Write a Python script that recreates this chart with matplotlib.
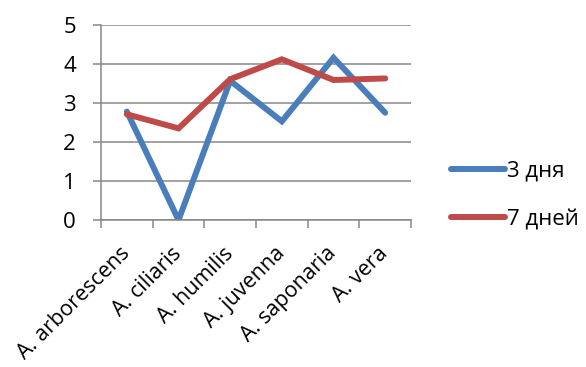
import numpy as np
import matplotlib
matplotlib.use("Agg")
import matplotlib.pyplot as plt

plt.rcParams['font.family'] = ['Open Sans', 'DejaVu Sans']

species = ["A. arborescens", "A. ciliaris", "A. humilis",
           "A. juvenna", "A. saponaria", "A. vera"]
days3 = [2.78, 0.0, 3.57, 2.53, 4.16, 2.75]
days7 = [2.71, 2.35, 3.61, 4.12, 3.59, 3.63]
series_names = ["3 дня", "7 дней"]

fig = plt.figure(figsize=(5.86, 3.67), dpi=100)
ax = fig.add_axes([0.1724, 0.4005, 0.529, 0.5314])

x = np.arange(len(species))
ax.plot(x, days3, color="#4A7EBB", lw=4.3, solid_capstyle="round",
        solid_joinstyle="miter", label=series_names[0])
ax.plot(x, days7, color="#BE4B48", lw=4.3, solid_capstyle="round",
        solid_joinstyle="miter", label=series_names[1])

ax.set_xlim(-0.5, len(species) - 0.5)
ax.set_ylim(0, 5)
ax.set_yticks(range(6))
ax.yaxis.grid(True, color="#878787", lw=1.1)
ax.set_axisbelow(True)

ax.set_xticks(x)
ax.set_xticklabels(species, rotation=45, ha="right", va="center",
                   rotation_mode="anchor")
ax.set_xticks(np.arange(-0.5, len(species)), minor=True)
ax.tick_params(axis="x", which="major", length=0, pad=22, labelsize=15.5)
ax.tick_params(axis="x", which="minor", length=6, width=1.1, color="#878787",
               direction="out")
ax.tick_params(axis="y", length=6, width=1.1, color="#878787", labelsize=16,
               pad=12)

for side in ["top", "right"]:
    ax.spines[side].set_visible(False)
for side in ["left", "bottom"]:
    ax.spines[side].set_color("#878787")
    ax.spines[side].set_linewidth(1.1)

ax.legend(loc="center left", bbox_to_anchor=(1.13, 0.127), frameon=False,
          fontsize=16, handlelength=2.4, handletextpad=0.1,
          labelspacing=1.25, borderaxespad=0, borderpad=0)

fig.savefig("out.png", dpi=100)
